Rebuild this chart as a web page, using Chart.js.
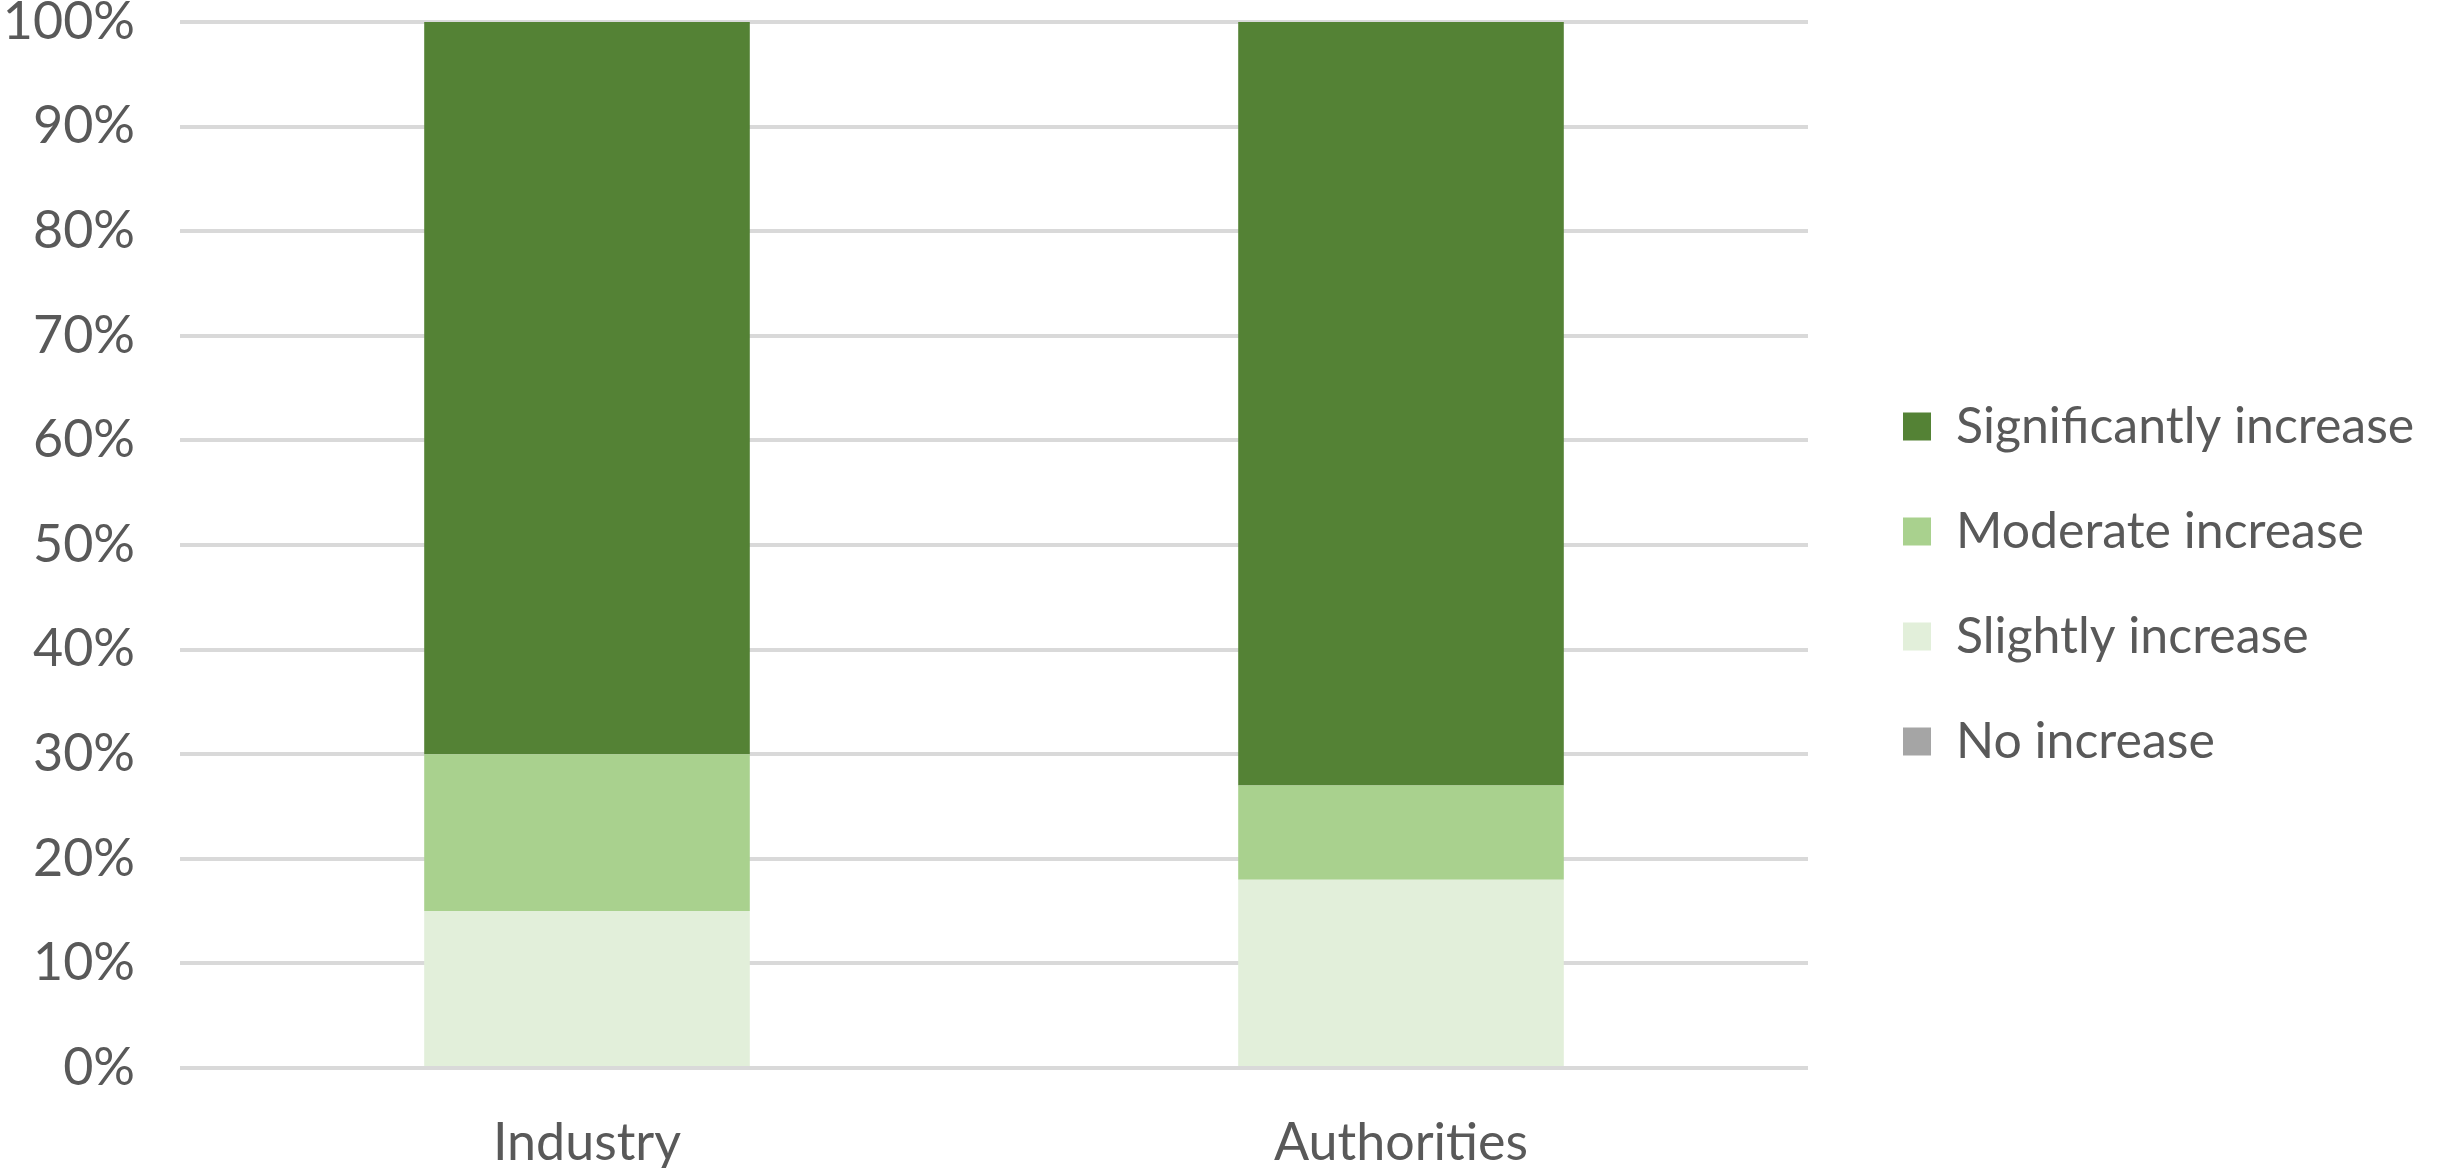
<!DOCTYPE html>
<html>
<head>
<meta charset="utf-8">
<script src="https://cdn.jsdelivr.net/npm/chart.js@4/dist/chart.umd.min.js"></script>
<style>
  body { margin: 0; background: #fff; }
  #wrap { width: 2438px; height: 1168px; }
</style>
</head>
<body>
<div id="wrap"><canvas id="chart" width="2438" height="1168"></canvas></div>
<script>
const categories = ['Industry', 'Authorities'];
const noIncrease = [0, 0];
const slightlyIncrease = [15, 18];
const moderateIncrease = [15, 9];
const significantlyIncrease = [70, 73];
const yTicks = [0, 10, 20, 30, 40, 50, 60, 70, 80, 90, 100];

const textColor = '#595959';
const fontFamily = 'Lato, "Open Sans", sans-serif';
const legendSize = 50;
const legendPad = 55;

// legend should start right of the plot, longest label runs to the edge
const measure = document.createElement('canvas').getContext('2d');
measure.font = legendSize + 'px ' + fontFamily;
const longest = measure.measureText('Significantly increase').width;
const legendLeft = 1903 - legendPad;
const padRight = 2438 - (legendLeft + legendPad + 28 + legendSize / 2 + longest + 10);

new Chart(document.getElementById('chart'), {
  type: 'bar',
  data: {
    labels: categories,
    datasets: [
      { label: 'No increase', data: noIncrease, backgroundColor: '#a5a5a5' },
      { label: 'Slightly increase', data: slightlyIncrease, backgroundColor: '#e2efda' },
      { label: 'Moderate increase', data: moderateIncrease, backgroundColor: '#a9d18e' },
      { label: 'Significantly increase', data: significantlyIncrease, backgroundColor: '#548235' }
    ]
  },
  options: {
    responsive: false,
    animation: false,
    layout: { padding: { top: 0, bottom: 0, right: padRight } },
    datasets: { bar: { categoryPercentage: 0.8, barPercentage: 0.5 } },
    plugins: {
      legend: {
        position: 'right',
        reverse: true,
        maxWidth: 900,
        labels: {
          color: textColor,
          font: { family: fontFamily, size: legendSize },
          boxWidth: 28,
          boxHeight: 28,
          padding: legendPad
        }
      },
      tooltip: { enabled: false }
    },
    scales: {
      x: {
        stacked: true,
        afterFit: s => { s.height = 100; },
        grid: { display: false, drawTicks: false },
        border: { display: false },
        ticks: { color: textColor, font: { family: fontFamily, size: 52, lineHeight: 1 }, padding: 49 }
      },
      y: {
        stacked: true,
        min: 0,
        max: 100,
        afterFit: s => { s.width = 180; s.paddingTop = 22; s.paddingBottom = 0; },
        afterBuildTicks: s => { s.ticks = yTicks.map(v => ({ value: v })); },
        grid: { color: '#d9d9d9', lineWidth: 4, drawTicks: false },
        border: { display: false },
        ticks: {
          color: textColor,
          font: { family: fontFamily, size: 52, lineHeight: 0.85 },
          padding: 45,
          callback: v => v + '%'
        }
      },
      gap: {
        position: 'right',
        display: true,
        afterFit: s => { s.width = 40; },
        grid: { display: false },
        border: { display: false },
        ticks: { display: false }
      }
    }
  }
});
</script>
</body>
</html>
